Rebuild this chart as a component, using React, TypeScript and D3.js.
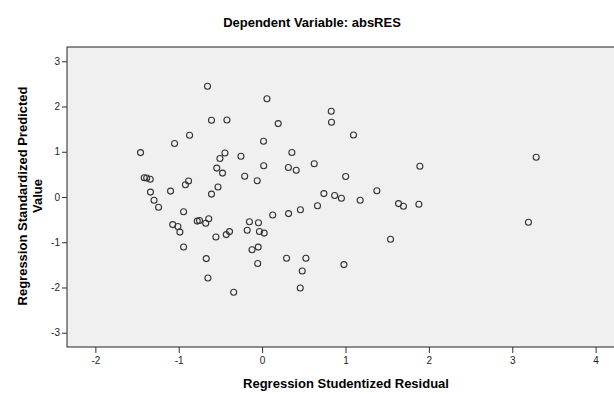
import * as d3 from "d3";
import React, { useEffect, useRef } from "react";

// studentized residual (x) vs standardized predicted value (y)
const residuals = [
  -1.458, -1.414, -1.384, -1.342, -1.339, -1.296, -1.242, -1.098, -1.05, -0.87,
  -0.882, -0.92, -0.655, -0.607, -0.422, -0.446, -0.506, -0.544, -0.475, -0.529,
  -0.607, -0.942, -1.072, -1.01, -0.986, -0.778, -0.751, -0.676, -0.64, -0.554,
  -0.43, -0.391, -0.942, -0.67, -0.65, -0.341, -0.152, -0.044, -0.179, -0.032,
  0.025, -0.121, -0.047, -0.053, 0.127, -0.254, 0.017, 0.058, 0.019, -0.209,
  -0.059, 0.193, 0.357, 0.315, 0.409, 0.625, 0.829, 0.832, 1.096, 1.002,
  1.892, 0.741, 0.87, 0.951, 1.176, 1.376, 0.664, 0.459, 0.317, 1.636,
  1.695, 1.88, 0.293, 0.525, 0.481, 0.457, 0.981, 1.54, 3.287, 3.194,
];
const predicted = [
  0.981, 0.424, 0.42, 0.391, 0.108, -0.073, -0.228, 0.13, 1.182, 1.364,
  0.354, 0.27, 2.446, 1.695, 1.702, 0.972, 0.851, 0.639, 0.528, 0.221,
  0.064, -0.327, -0.61, -0.652, -0.776, -0.533, -0.519, -0.581, -0.482, -0.884,
  -0.831, -0.765, -1.105, -1.361, -1.79, -2.106, -0.548, -0.57, -0.736, -0.762,
  -0.798, -1.167, -1.107, -1.47, -0.398, 0.899, 1.231, 2.17, 0.69, 0.457,
  0.358, 1.622, 0.983, 0.652, 0.59, 0.734, 1.894, 1.651, 1.37, 0.453,
  0.678, 0.075, 0.033, -0.029, -0.073, 0.137, -0.194, -0.283, -0.367, -0.146,
  -0.206, -0.161, -1.355, -1.355, -1.635, -2.011, -1.494, -0.935, 0.877, -0.559,
];
const xTicks = [-2, -1, 0, 1, 2, 3, 4];
const yTicks = [-3, -2, -1, 0, 1, 2, 3];

const FONT = "Arial, 'Liberation Sans', sans-serif";

const App: React.FC = () => {
  const ref = useRef<SVGSVGElement>(null);

  useEffect(() => {
    const width = 614;
    const height = 394;
    const left = 67;
    const top = 47;
    const right = 614;
    const bottom = 347;

    const svg = d3.select(ref.current).attr("width", width).attr("height", height);
    svg.selectAll("*").remove();

    const x = d3.scaleLinear().domain([-2.34, 4.22]).range([left, right]);
    const y = d3.scaleLinear().domain([-3.315, 3.315]).range([bottom, top]);
    const fmt = (d: d3.NumberValue) => String(d);

    svg
      .append("rect")
      .attr("x", left)
      .attr("y", top)
      .attr("width", right - left + 5)
      .attr("height", bottom - top)
      .attr("fill", "#f0f0f0")
      .attr("stroke", "#222")
      .attr("stroke-width", 1);

    const xAxis = svg
      .append("g")
      .attr("transform", "translate(0," + bottom + ")")
      .call(
        d3.axisBottom(x).tickValues(xTicks).tickFormat(fmt).tickSize(6).tickSizeOuter(0).tickPadding(4)
      );
    const yAxis = svg
      .append("g")
      .attr("transform", "translate(" + left + ",0)")
      .call(
        d3.axisLeft(y).tickValues(yTicks).tickFormat(fmt).tickSize(5).tickSizeOuter(0).tickPadding(2)
      );

    [xAxis, yAxis].forEach((g) => {
      g.select(".domain").remove();
      g.selectAll("line").attr("stroke", "#333");
      g.selectAll("text").attr("font-family", FONT).attr("font-size", 10).attr("fill", "#222");
    });

    svg
      .append("g")
      .selectAll("circle")
      .data(residuals.map((r, i) => ({ r, p: predicted[i] })))
      .join("circle")
      .attr("cx", (d) => x(d.r))
      .attr("cy", (d) => y(d.p))
      .attr("r", 3)
      .attr("fill", "none")
      .attr("stroke", "#333")
      .attr("stroke-width", 1.1);

    svg
      .append("text")
      .attr("x", 312)
      .attr("y", 27)
      .attr("text-anchor", "middle")
      .attr("font-family", FONT)
      .attr("font-size", 13)
      .attr("font-weight", "bold")
      .text("Dependent Variable: absRES");

    svg
      .append("text")
      .attr("x", 346)
      .attr("y", 388)
      .attr("text-anchor", "middle")
      .attr("font-family", FONT)
      .attr("font-size", 13)
      .attr("font-weight", "bold")
      .text("Regression Studentized Residual");

    const yLabel = svg
      .append("text")
      .attr("transform", "translate(0,196) rotate(-90)")
      .attr("text-anchor", "middle")
      .attr("font-family", FONT)
      .attr("font-size", 13)
      .attr("font-weight", "bold");
    yLabel.append("tspan").attr("x", 0).attr("y", 27).text("Regression Standardized Predicted");
    yLabel.append("tspan").attr("x", 0).attr("y", 42).text("Value");
  }, []);

  return <svg ref={ref} style={{ position: "absolute", left: 0, top: 0 }} />;
};

export default App;
